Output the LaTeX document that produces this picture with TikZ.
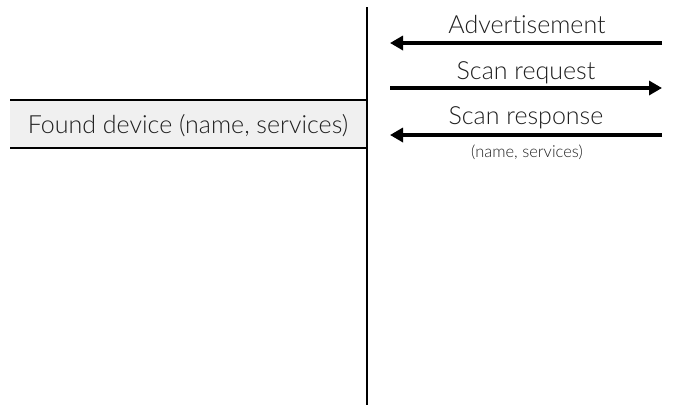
\documentclass[tikz,border=0pt]{standalone}
\usepackage{fontspec}
\setmainfont{Lato}[UprightFont=* Light,Ligatures=NoCommon]
\usetikzlibrary{arrows.meta}
\begin{document}
\begin{tikzpicture}[x=1pt,y=-1pt,
  msg/.style={line width=4pt,-{Triangle[length=13pt,width=14pt]}},
  lbl/.style={font=\fontsize{25}{28}\selectfont,inner sep=0pt,text=black!88},
  sub/.style={font=\fontsize{16.5}{19}\selectfont,inner sep=0pt,text=black!88}]
  \useasboundingbox (0,0) rectangle (673,405);
  % found-device band
  \fill[black!6] (10,100) rectangle (367,148);
  \draw[line width=2.5pt] (10,100) -- (367,100);
  \draw[line width=2.5pt] (10,148) -- (367,148);
  \node[lbl] (found) at (188,126) {Found device (name, services)};
  % lifeline
  \coordinate (top) at (367,7);
  \coordinate (bot) at (367,405);
  \draw[line width=2.5pt] (top) -- (bot);
  % messages
  \coordinate (a1) at (662,43);  \coordinate (a2) at (390,43);
  \coordinate (r1) at (390,88);  \coordinate (r2) at (662,88);
  \coordinate (s1) at (662,135); \coordinate (s2) at (390,135);
  \draw[msg] (a1) -- (a2);
  \draw[msg] (r1) -- (r2);
  \draw[msg] (s1) -- (s2);
  \node[lbl] (adv) at (527,25) {Advertisement};
  \node[lbl] (req) at (526,73) {Scan request};
  \node[lbl] (resp) at (526,118) {Scan response};
  \node[sub] (respsub) at (527,152) {(name, services)};
\end{tikzpicture}
\end{document}
